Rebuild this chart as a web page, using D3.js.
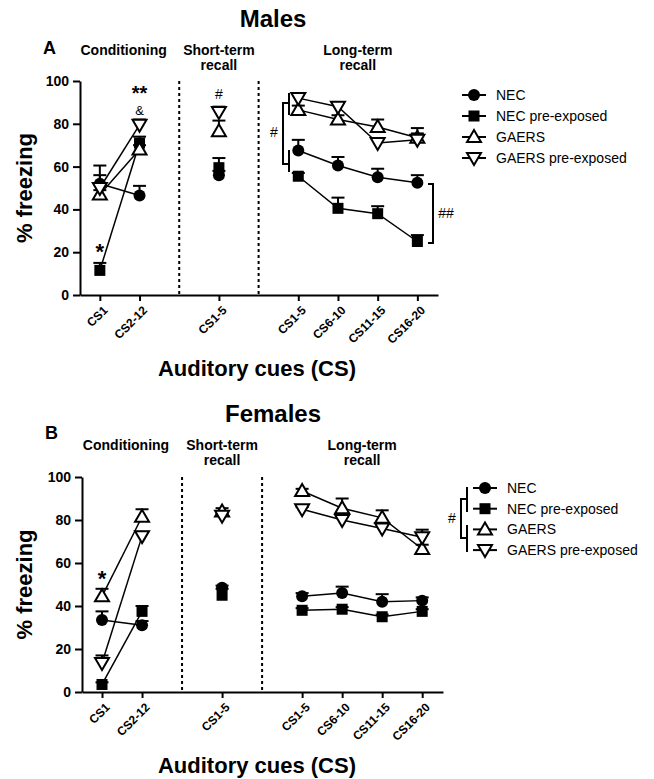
<!DOCTYPE html>
<html>
<head>
<meta charset="utf-8">
<script src="https://cdn.jsdelivr.net/npm/d3@7"></script>
<style>
  body { margin: 0; background: #fff; }
  text { font-family: "Liberation Sans", Arial, sans-serif; fill: #000; }
</style>
</head>
<body>
<div id="chart"></div>
<script>
// x categories (index 2 and 4 are the gaps holding the dotted separators)
const catIndex = [0, 1, 3, 5, 6, 7, 8];
const catLabels = ["CS1", "CS2-12", "CS1-5", "CS1-5", "CS6-10", "CS11-15", "CS16-20"];
const groups = ["NEC", "NEC pre-exposed", "GAERS", "GAERS pre-exposed"];
const symbols = ["circle", "square", "up", "down"];

// males: mean % freezing, SEM
const malesNEC = [52, 46.5, 56, 67.5, 60.5, 55, 52.5];
const malesNECsem = [8.5, 4.5, 2, 5, 4, 4, 3.5];
const malesNECpre = [11.5, 71, 59.5, 55.5, 40.5, 38, 25];
const malesNECpreSem = [3.5, 3, 4.5, 1.5, 5, 3.5, 3];
const malesGAERS = [47, 68, 76.5, 86.5, 82, 78.5, 73.5];
const malesGAERSsem = [2, 2, 5, 2, 2, 3.5, 4.5];
const malesGAERSpre = [50, 79.5, 85.5, 92, 88, 71, 72.5];
const malesGAERSpreSem = [6, 2.5, 2.5, 2, 2, 2, 3];

// females
const femalesNEC = [33.5, 31, 48.5, 44.5, 46, 42, 42.5];
const femalesNECsem = [4, 2, 1, 1.5, 3, 3.5, 1.5];
const femalesNECpre = [3.5, 37.5, 45, 38, 38.5, 35, 37.5];
const femalesNECpreSem = [1, 2.5, 3, 1, 1, 1, 1];
const femalesGAERS = [44.5, 81.5, 84, 93.5, 85.5, 81, 66.5];
const femalesGAERSsem = [3.5, 3.5, 1.5, 1, 4.5, 3.5, 2];
const femalesGAERSpre = [13.5, 72.5, 82, 85, 80, 76, 72];
const femalesGAERSpreSem = [3.5, 2, 1.5, 1, 1.5, 1.5, 3.5];

const yTicks = [0, 20, 40, 60, 80, 100];

const W = 654, H = 779;
const svg = d3.select("#chart").append("svg")
    .attr("width", W)
    .attr("height", H);

// draw one marker at (cx, cy)
function drawSymbol(g, type, cx, cy) {
    if (type === "circle") {
        g.append("circle").attr("cx", cx).attr("cy", cy).attr("r", 6).attr("fill", "#000");
    } else if (type === "square") {
        g.append("rect").attr("x", cx - 5.5).attr("y", cy - 5.5)
            .attr("width", 11).attr("height", 11).attr("fill", "#000");
    } else {
        const s = type === "up" ? 1 : -1;
        const pts = [[cx, cy - s * 7], [cx + 7, cy + s * 5], [cx - 7, cy + s * 5]];
        g.append("path").attr("d", "M" + pts.join("L") + "Z")
            .attr("fill", "#fff").attr("stroke", "#000").attr("stroke-width", 2)
            .attr("stroke-linejoin", "miter");
    }
}

function drawPanel(p) {
    const g = svg.append("g");
    const x = d3.scaleLinear().domain([-0.5, 8.52]).range(p.xRange);
    const y = d3.scaleLinear().domain([0, 100]).range(p.yRange);

    // titles
    g.append("text").attr("x", 273).attr("y", p.top + 9)
        .attr("text-anchor", "middle").attr("font-size", 24).attr("font-weight", "bold")
        .text(p.title);
    g.append("text").attr("x", p.xRange[0] - 37).attr("y", p.letterY)
        .attr("font-size", 18).attr("font-weight", "bold").text(p.letter);
    const heads = [
        { lines: ["Conditioning"], at: 0.6 },
        { lines: ["Short-term", "recall"], at: 3 },
        { lines: ["Long-term", "recall"], at: 6.5 }
    ];
    heads.forEach(h => {
        h.lines.forEach((t, i) => {
            g.append("text").attr("x", x(h.at)).attr("y", p.top + 37 + i * 15)
                .attr("text-anchor", "middle").attr("font-size", 14).attr("font-weight", "bold")
                .text(t);
        });
    });

    // dotted separators
    [2, 4].forEach(c => {
        g.append("line").attr("x1", x(c)).attr("x2", x(c))
            .attr("y1", y(100)).attr("y2", y(0))
            .attr("stroke", "#000").attr("stroke-width", 2).attr("stroke-dasharray", "3,3");
    });

    // axes
    const yAxis = g.append("g").attr("transform", `translate(${p.xRange[0]},0)`)
        .call(d3.axisLeft(y).tickValues(yTicks).tickSize(7).tickSizeOuter(0).tickPadding(4));
    yAxis.selectAll("text").attr("font-size", 14).attr("font-weight", "bold")
        .attr("font-family", "Liberation Sans, Arial, sans-serif");
    const xAxis = g.append("g").attr("transform", `translate(0,${p.yRange[0]})`)
        .call(d3.axisBottom(x).tickValues(catIndex).tickFormat((d, i) => catLabels[i])
            .tickSize(6).tickSizeOuter(0));
    xAxis.selectAll("text").attr("font-size", 12).attr("font-weight", "bold")
        .attr("font-family", "Liberation Sans, Arial, sans-serif")
        .attr("text-anchor", "end").attr("dy", null).attr("x", 0).attr("y", 0)
        .attr("transform", "translate(8,16) rotate(-45)");
    [yAxis, xAxis].forEach(a => {
        a.selectAll("path, line").attr("stroke", "#000").attr("stroke-width", 2);
    });

    g.append("text").attr("transform", `translate(32,${(p.yRange[0] + p.yRange[1]) / 2}) rotate(-90)`)
        .attr("text-anchor", "middle").attr("font-size", 22).attr("font-weight", "bold")
        .text("% freezing");
    g.append("text").attr("x", 257).attr("y", p.yRange[0] + 81)
        .attr("text-anchor", "middle").attr("font-size", 22).attr("font-weight", "bold")
        .text("Auditory cues (CS)");

    // series
    const segments = [[0, 1], [3, 4, 5, 6]];
    p.series.forEach((s, k) => {
        const pts = s.mean.map((m, i) => ({ cx: x(catIndex[i]), cy: y(m), top: y(m + s.sem[i]) }));
        const line = d3.line().x(d => d.cx).y(d => d.cy);
        segments.forEach(seg => {
            g.append("path").datum(seg.map(i => pts[i])).attr("d", line)
                .attr("fill", "none").attr("stroke", "#000").attr("stroke-width", 1.5);
        });
    });
    p.series.forEach((s, k) => {
        const pts = s.mean.map((m, i) => ({ cx: x(catIndex[i]), cy: y(m), top: y(m + s.sem[i]) }));
        pts.forEach(d => {
            g.append("line").attr("x1", d.cx).attr("x2", d.cx).attr("y1", d.cy).attr("y2", d.top)
                .attr("stroke", "#000").attr("stroke-width", 2);
            g.append("line").attr("x1", d.cx - 6.5).attr("x2", d.cx + 6.5).attr("y1", d.top).attr("y2", d.top)
                .attr("stroke", "#000").attr("stroke-width", 2);
        });
        pts.forEach(d => drawSymbol(g, symbols[k], d.cx, d.cy));
    });

    // legend
    groups.forEach((name, k) => {
        const ly = p.legend.y + k * p.legend.step;
        g.append("line").attr("x1", p.legend.x - 12).attr("x2", p.legend.x + 12)
            .attr("y1", ly).attr("y2", ly).attr("stroke", "#000").attr("stroke-width", 2);
        drawSymbol(g, symbols[k], p.legend.x, ly);
        g.append("text").attr("x", p.legend.x + 22).attr("y", ly).attr("dy", "0.35em")
            .attr("font-size", 14).text(name);
    });

    p.extra(g, x, y);
}

function mark(g, txt, cx, cy, fs, weight) {
    const star = txt.indexOf("*") >= 0;
    g.append("text").attr("x", cx).attr("y", cy + (star ? 0.6 : 0.36) * fs)
        .attr("text-anchor", "middle").attr("font-size", fs)
        .attr("font-weight", weight || "normal").text(txt);
}

function bracket(g, xo, xi, yTop, yBot, inner) {
    const path = d3.path();
    path.moveTo(xi, yTop); path.lineTo(xo, yTop); path.lineTo(xo, yBot); path.lineTo(xi, yBot);
    inner.forEach(r => { path.moveTo(xi, r[0]); path.lineTo(xi, r[1]); });
    g.append("path").attr("d", path.toString()).attr("fill", "none")
        .attr("stroke", "#000").attr("stroke-width", 2);
}

drawPanel({
    title: "Males", letter: "A", top: 18, letterY: 54,
    xRange: [80, 438], yRange: [295, 81],
    series: [
        { mean: malesNEC, sem: malesNECsem },
        { mean: malesNECpre, sem: malesNECpreSem },
        { mean: malesGAERS, sem: malesGAERSsem },
        { mean: malesGAERSpre, sem: malesGAERSpreSem }
    ],
    legend: { x: 474, y: 95, step: 21 },
    extra: (g, x, y) => {
        mark(g, "**", x(1), 88, 20, "bold");
        mark(g, "&", x(1), 110, 13);
        mark(g, "*", x(0), 246, 22, "bold");
        mark(g, "#", x(3), 94, 14);
        mark(g, "#", 274, 132, 14);
        bracket(g, 283, 289, 103, 164, [[93, 115], [150, 172]]);
        mark(g, "##", 446, 213, 14);
        bracket(g, 433, 428, 184, 243, []);
    }
});

drawPanel({
    title: "Females", letter: "B", top: 413, letterY: 439,
    xRange: [82, 443], yRange: [692, 477],
    series: [
        { mean: femalesNEC, sem: femalesNECsem },
        { mean: femalesNECpre, sem: femalesNECpreSem },
        { mean: femalesGAERS, sem: femalesGAERSsem },
        { mean: femalesGAERSpre, sem: femalesGAERSpreSem }
    ],
    legend: { x: 485, y: 488, step: 20.7 },
    extra: (g, x, y) => {
        mark(g, "*", x(0), 573, 22, "bold");
        mark(g, "#", 452, 518, 14);
        bracket(g, 461, 467, 499, 538, [[487, 512], [525, 552]]);
    }
});
</script>
</body>
</html>
